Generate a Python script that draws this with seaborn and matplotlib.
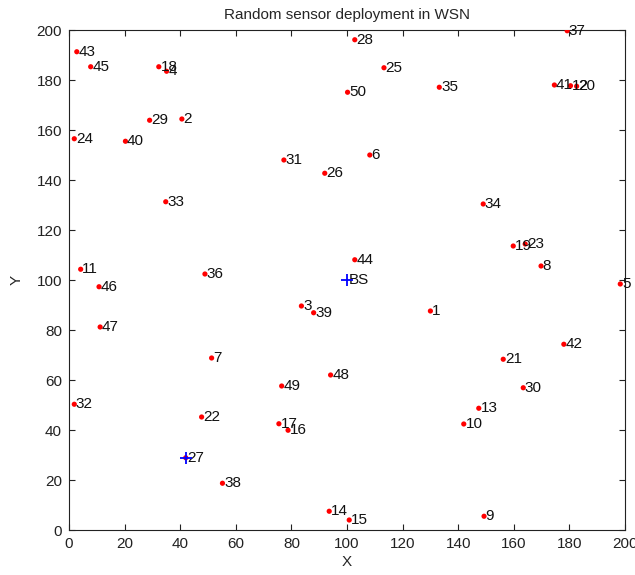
import matplotlib
matplotlib.use("Agg")
import matplotlib.pyplot as plt
import seaborn as sns
import pandas as pd

# sensor node coordinates
node_id = list(range(1, 51))
node_x = [130.0, 40.6, 83.6, 35.1, 198.3, 108.2, 51.3, 169.8, 149.3, 142.0,
          4.2, 180.4, 147.4, 93.6, 100.8, 78.8, 75.5, 32.3, 159.8, 182.6,
          156.2, 47.7, 164.1, 1.9, 113.3, 92.0, 42.0, 102.8, 29.0, 163.4,
          77.3, 1.9, 34.8, 149.0, 133.2, 48.9, 179.2, 55.2, 88.0, 20.3,
          174.6, 178.0, 2.8, 102.8, 7.8, 10.8, 11.2, 94.1, 76.5, 100.2]
node_y = [87.6, 164.4, 89.6, 183.5, 98.4, 150.0, 68.8, 105.6, 5.5, 42.4,
          104.3, 177.7, 48.7, 7.5, 4.0, 39.9, 42.5, 185.3, 113.6, 177.5,
          68.3, 45.2, 114.4, 156.5, 184.9, 142.7, 28.9, 196.1, 163.9, 56.9,
          148.0, 50.3, 131.3, 130.4, 177.1, 102.4, 199.7, 18.7, 86.9, 155.5,
          178.0, 74.3, 191.3, 108.1, 185.3, 97.3, 81.2, 62.0, 57.6, 175.1]

# base station + the one node marked as cluster head
bs_x, bs_y = [100.0], [100.0]
head_id = 27

sns.set_style("ticks")
plt.rcParams["font.family"] = ["Liberation Sans", "DejaVu Sans"]

df = pd.DataFrame({"id": node_id, "x": node_x, "y": node_y})

fig = plt.figure(figsize=(6.35, 5.75), dpi=100)
ax = fig.add_axes([69 / 635, 1 - 530 / 575, 556 / 635, 500 / 575])

sns.scatterplot(data=df, x="x", y="y", ax=ax, color="red", s=14,
                edgecolor="none", zorder=3)
head = df[df["id"] == head_id]
sns.scatterplot(data=head, x="x", y="y", ax=ax, color="blue", marker="+",
                s=70, linewidth=1.3, zorder=4)
sns.scatterplot(x=bs_x, y=bs_y, ax=ax, color="blue", marker="+",
                s=70, linewidth=1.3, zorder=4)

for i, xx, yy in zip(node_id, node_x, node_y):
    ax.text(xx + 0.6, yy, str(i), fontsize=11, va="center", ha="left", color="#111111")
ax.text(bs_x[0] + 0.6, bs_y[0], "BS", fontsize=11, va="center", ha="left", color="#111111")

ax.set_xlim(0, 200)
ax.set_ylim(0, 200)
ax.set_xticks(range(0, 201, 20))
ax.set_yticks(range(0, 201, 20))
ax.tick_params(direction="in", top=True, right=True, labelsize=11, length=4,
               width=0.8, pad=5, colors="#222222")
for sp in ax.spines.values():
    sp.set_visible(True)
    sp.set_linewidth(0.8)
    sp.set_color("#222222")
ax.set_xlabel("X", fontsize=11, labelpad=3)
ax.set_ylabel("Y", fontsize=11, labelpad=9)
ax.set_title("Random sensor deployment in WSN", fontsize=11, pad=8)

fig.savefig("out.png", dpi=100)
